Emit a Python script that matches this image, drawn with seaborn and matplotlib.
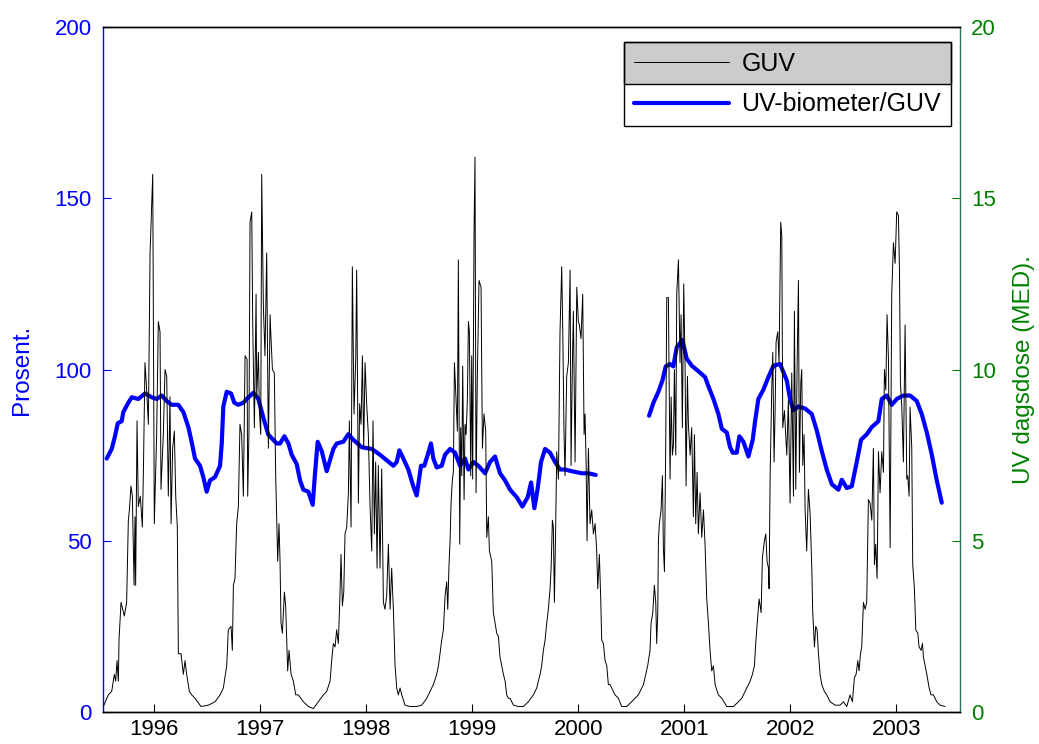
import pandas as pd
import matplotlib
matplotlib.use('Agg')
import matplotlib.pyplot as plt
import seaborn as sns
from matplotlib.lines import Line2D
from matplotlib.patches import Rectangle

# GUV daily UV dose (MED) as (decimal year, value)
guv = [
    (1996.019, 0.16), (1996.066, 0.5), (1996.098, 0.6), (1996.123, 1.1), (1996.136, 0.9),
    (1996.148, 1.5), (1996.161, 0.9), (1996.167, 2.1), (1996.186, 3.2), (1996.217, 2.8),
    (1996.239, 3.2), (1996.255, 5.6), (1996.265, 5.9), (1996.280, 6.6), (1996.293, 6.3),
    (1996.309, 3.7), (1996.318, 5.7), (1996.324, 3.7), (1996.337, 8.5), (1996.349, 6.0),
    (1996.368, 6.3), (1996.387, 5.4), (1996.397, 7.0), (1996.412, 10.2), (1996.428, 9.4),
    (1996.444, 8.4), (1996.460, 13.4), (1996.485, 15.7), (1996.500, 5.5), (1996.522, 8.1),
    (1996.538, 11.4), (1996.554, 11.1), (1996.563, 6.5), (1996.585, 8.1), (1996.601, 10.0),
    (1996.617, 9.8), (1996.632, 6.3), (1996.648, 9.2), (1996.658, 5.5), (1996.673, 7.7),
    (1996.689, 8.2), (1996.702, 6.3), (1996.717, 5.4), (1996.727, 1.7), (1996.752, 1.7),
    (1996.774, 1.1), (1996.790, 1.5), (1996.805, 1.1), (1996.831, 0.6), (1996.853, 0.5),
    (1996.884, 0.4), (1996.941, 0.16), (1997.010, 0.2), (1997.073, 0.3), (1997.120, 0.5),
    (1997.151, 0.7), (1997.183, 1.35), (1997.198, 2.4), (1997.224, 2.5), (1997.236, 1.8),
    (1997.246, 3.7), (1997.261, 3.9), (1997.277, 5.5), (1997.293, 6.0), (1997.308, 8.4),
    (1997.324, 8.1), (1997.340, 6.3), (1997.356, 10.4), (1997.375, 10.3), (1997.381, 6.3),
    (1997.393, 8.2), (1997.403, 14.3), (1997.419, 14.6), (1997.428, 11.4), (1997.444, 8.3),
    (1997.460, 12.2), (1997.466, 9.2), (1997.482, 10.5), (1997.491, 8.8), (1997.504, 8.1),
    (1997.513, 15.7), (1997.529, 11.8), (1997.544, 10.4), (1997.560, 13.4), (1997.576, 7.7),
    (1997.592, 11.6), (1997.601, 10.9), (1997.614, 10.0), (1997.632, 9.9), (1997.645, 6.9),
    (1997.664, 4.4), (1997.676, 5.5), (1997.686, 4.4), (1997.695, 2.6), (1997.708, 2.3),
    (1997.727, 3.5), (1997.739, 3.1), (1997.758, 1.2), (1997.771, 1.8), (1997.790, 1.1),
    (1997.812, 0.9), (1997.834, 0.5), (1997.859, 0.5), (1997.906, 0.3), (1997.953, 0.16),
    (1998.000, 0.1), (1998.047, 0.3), (1998.095, 0.5), (1998.126, 0.6), (1998.158, 0.9),
    (1998.173, 1.5), (1998.189, 2.0), (1998.205, 1.9), (1998.220, 2.4), (1998.236, 2.0),
    (1998.252, 3.5), (1998.261, 4.6), (1998.274, 3.1), (1998.287, 3.5), (1998.299, 5.2),
    (1998.315, 5.4), (1998.331, 6.4), (1998.340, 8.5), (1998.356, 5.4), (1998.368, 13.0),
    (1998.384, 8.7), (1998.400, 10.3), (1998.409, 12.9), (1998.425, 6.1), (1998.437, 9.0),
    (1998.450, 8.4), (1998.463, 10.4), (1998.475, 7.7), (1998.488, 10.2), (1998.503, 9.0),
    (1998.519, 8.1), (1998.535, 6.0), (1998.551, 4.7), (1998.563, 8.5), (1998.576, 5.2),
    (1998.588, 7.3), (1998.601, 4.2), (1998.613, 7.2), (1998.629, 4.2), (1998.645, 7.1),
    (1998.661, 3.2), (1998.676, 3.0), (1998.692, 3.4), (1998.708, 4.9), (1998.724, 3.0),
    (1998.739, 4.2), (1998.755, 3.0), (1998.771, 1.35), (1998.787, 0.7), (1998.802, 0.5),
    (1998.818, 0.7), (1998.834, 0.5), (1998.865, 0.2), (1998.912, 0.16), (1998.975, 0.16),
    (1999.022, 0.2), (1999.070, 0.4), (1999.101, 0.6), (1999.132, 0.8), (1999.164, 1.1),
    (1999.180, 1.35), (1999.195, 1.7), (1999.211, 2.1), (1999.227, 2.4), (1999.243, 3.4),
    (1999.258, 3.8), (1999.268, 3.0), (1999.280, 4.3), (1999.290, 5.0), (1999.299, 6.1),
    (1999.312, 6.8), (1999.321, 7.0), (1999.331, 10.2), (1999.346, 9.1), (1999.359, 8.2),
    (1999.368, 13.2), (1999.381, 4.9), (1999.390, 8.3), (1999.400, 6.9), (1999.409, 10.1),
    (1999.422, 6.2), (1999.431, 8.4), (1999.441, 8.1), (1999.453, 9.1), (1999.463, 11.4),
    (1999.472, 11.1), (1999.485, 6.9), (1999.494, 10.4), (1999.503, 6.8), (1999.516, 14.0),
    (1999.525, 16.2), (1999.535, 6.4), (1999.547, 9.8), (1999.563, 12.6), (1999.582, 12.4),
    (1999.595, 7.7), (1999.610, 8.7), (1999.626, 8.2), (1999.636, 5.1), (1999.651, 5.7),
    (1999.661, 4.7), (1999.683, 4.4), (1999.698, 2.9), (1999.714, 2.6), (1999.730, 2.3),
    (1999.746, 2.2), (1999.761, 1.6), (1999.777, 1.35), (1999.793, 1.1), (1999.809, 0.9),
    (1999.824, 0.5), (1999.840, 0.4), (1999.856, 0.4), (1999.887, 0.2), (1999.934, 0.16),
    (1999.981, 0.16), (2000.029, 0.3), (2000.076, 0.5), (2000.107, 0.7), (2000.139, 1.1),
    (2000.154, 1.35), (2000.170, 1.8), (2000.186, 2.1), (2000.202, 2.6), (2000.217, 3.0),
    (2000.233, 3.6), (2000.243, 4.2), (2000.255, 5.6), (2000.264, 5.4), (2000.274, 3.2),
    (2000.286, 5.4), (2000.296, 7.6), (2000.312, 6.8), (2000.327, 11.1), (2000.343, 13.0),
    (2000.353, 11.1), (2000.365, 8.1), (2000.374, 6.9), (2000.390, 9.8), (2000.406, 10.2),
    (2000.422, 12.9), (2000.431, 7.2), (2000.444, 10.2), (2000.453, 11.7), (2000.469, 7.3),
    (2000.485, 12.4), (2000.500, 11.4), (2000.510, 11.3), (2000.525, 10.9), (2000.541, 12.2),
    (2000.554, 8.1), (2000.563, 8.7), (2000.573, 7.3), (2000.582, 5.0), (2000.595, 7.7),
    (2000.610, 5.5), (2000.626, 5.9), (2000.642, 5.2), (2000.658, 5.5), (2000.673, 4.7),
    (2000.683, 3.6), (2000.698, 4.6), (2000.711, 3.3), (2000.720, 2.1), (2000.736, 2.0),
    (2000.752, 1.5), (2000.768, 1.35), (2000.783, 0.8), (2000.799, 0.8), (2000.831, 0.6),
    (2000.846, 0.5), (2000.878, 0.4), (2000.909, 0.16), (2000.956, 0.16), (2001.003, 0.3),
    (2001.035, 0.4), (2001.066, 0.5), (2001.082, 0.6), (2001.114, 0.8), (2001.136, 1.1),
    (2001.154, 1.35), (2001.176, 1.8), (2001.186, 2.6), (2001.202, 2.9), (2001.217, 3.7),
    (2001.230, 3.2), (2001.239, 2.0), (2001.249, 2.9), (2001.255, 5.0), (2001.264, 5.5),
    (2001.280, 5.9), (2001.293, 6.9), (2001.302, 4.8), (2001.312, 4.1), (2001.324, 7.8),
    (2001.334, 12.1), (2001.349, 12.1), (2001.365, 6.8), (2001.375, 9.2), (2001.387, 7.5),
    (2001.397, 7.8), (2001.406, 10.0), (2001.419, 7.5), (2001.428, 12.2), (2001.444, 13.2),
    (2001.459, 10.2), (2001.469, 11.6), (2001.481, 8.3), (2001.494, 12.5), (2001.507, 10.0),
    (2001.516, 6.6), (2001.529, 9.8), (2001.538, 8.4), (2001.554, 7.5), (2001.569, 8.3),
    (2001.585, 5.7), (2001.595, 8.1), (2001.607, 5.5), (2001.620, 7.0), (2001.632, 5.2),
    (2001.648, 6.4), (2001.664, 5.1), (2001.680, 5.9), (2001.695, 4.9), (2001.711, 3.3),
    (2001.727, 2.6), (2001.742, 1.8), (2001.758, 1.2), (2001.774, 1.35), (2001.790, 0.8),
    (2001.821, 0.5), (2001.853, 0.4), (2001.900, 0.16), (2001.963, 0.16), (2002.010, 0.3),
    (2002.041, 0.4), (2002.088, 0.7), (2002.120, 0.9), (2002.142, 1.1), (2002.161, 1.35),
    (2002.173, 2.0), (2002.192, 2.8), (2002.205, 3.3), (2002.224, 2.9), (2002.236, 4.5),
    (2002.255, 5.0), (2002.268, 5.2), (2002.280, 4.4), (2002.293, 4.2), (2002.299, 3.6),
    (2002.309, 6.9), (2002.324, 9.4), (2002.334, 10.5), (2002.346, 7.3), (2002.356, 8.8),
    (2002.365, 10.8), (2002.381, 11.1), (2002.393, 10.2), (2002.409, 14.3), (2002.419, 13.9),
    (2002.428, 8.3), (2002.444, 8.8), (2002.466, 7.5), (2002.481, 9.1), (2002.497, 6.1),
    (2002.513, 9.9), (2002.529, 6.3), (2002.538, 11.7), (2002.551, 6.5), (2002.563, 10.0),
    (2002.576, 12.6), (2002.585, 7.0), (2002.598, 9.6), (2002.607, 10.0), (2002.617, 7.2),
    (2002.629, 8.1), (2002.639, 5.9), (2002.654, 4.7), (2002.670, 6.5), (2002.686, 5.8),
    (2002.702, 4.2), (2002.711, 2.9), (2002.727, 1.9), (2002.739, 2.5), (2002.752, 2.4),
    (2002.765, 1.7), (2002.780, 1.1), (2002.796, 0.8), (2002.821, 0.6), (2002.843, 0.5),
    (2002.875, 0.3), (2002.922, 0.2), (2002.969, 0.2), (2003.000, 0.3), (2003.032, 0.16),
    (2003.063, 0.5), (2003.085, 0.3), (2003.104, 1.0), (2003.120, 1.1), (2003.136, 1.5),
    (2003.148, 1.2), (2003.161, 1.7), (2003.173, 1.9), (2003.189, 3.2), (2003.205, 3.0),
    (2003.220, 3.2), (2003.236, 6.2), (2003.252, 6.1), (2003.268, 5.6), (2003.283, 7.7),
    (2003.293, 4.3), (2003.305, 4.9), (2003.318, 3.9), (2003.331, 7.6), (2003.346, 6.4),
    (2003.362, 7.6), (2003.378, 7.0), (2003.387, 10.0), (2003.400, 9.4), (2003.412, 11.6),
    (2003.425, 10.3), (2003.441, 4.8), (2003.456, 12.2), (2003.472, 13.7), (2003.488, 13.1),
    (2003.503, 14.6), (2003.519, 14.5), (2003.529, 12.9), (2003.538, 9.6), (2003.551, 8.9),
    (2003.566, 7.3), (2003.582, 11.3), (2003.598, 6.8), (2003.607, 6.9), (2003.620, 6.3),
    (2003.629, 8.9), (2003.645, 7.7), (2003.654, 4.3), (2003.670, 3.6), (2003.683, 2.4),
    (2003.702, 2.3), (2003.714, 1.9), (2003.733, 1.8), (2003.746, 2.0), (2003.755, 1.6),
    (2003.771, 1.35), (2003.787, 1.1), (2003.809, 0.7), (2003.827, 0.5), (2003.849, 0.5),
    (2003.881, 0.3), (2003.912, 0.2), (2003.959, 0.16),
]

# UV-biometer / GUV ratio (%), first stretch 1996 - early 2000
ratio_a = [
    (1996.051, 74.0), (1996.098, 76.8), (1996.129, 80.5), (1996.155, 84.3), (1996.192, 84.9),
    (1996.208, 87.6), (1996.255, 90.3), (1996.287, 91.9), (1996.349, 91.4), (1996.412, 93.0),
    (1996.475, 91.9), (1996.523, 91.4), (1996.570, 92.4), (1996.617, 90.8), (1996.664, 89.7),
    (1996.726, 89.7), (1996.774, 87.6), (1996.821, 83.2), (1996.852, 78.9), (1996.884, 74.0),
    (1996.931, 71.9), (1996.962, 68.6), (1996.994, 64.3), (1997.025, 67.6), (1997.073, 68.6),
    (1997.120, 71.9), (1997.136, 78.4), (1997.151, 89.2), (1997.183, 93.5), (1997.224, 93.0),
    (1997.255, 90.3), (1997.292, 89.7), (1997.340, 90.3), (1997.372, 91.4), (1997.434, 93.2),
    (1997.481, 91.4), (1997.528, 86.0), (1997.575, 81.0), (1997.655, 78.4), (1997.686, 78.4),
    (1997.727, 80.5), (1997.765, 78.4), (1997.796, 75.1), (1997.843, 72.4), (1997.875, 67.6),
    (1997.906, 64.9), (1997.953, 64.3), (1997.994, 60.5), (1998.016, 69.7), (1998.041, 78.9),
    (1998.079, 76.2), (1998.126, 70.3), (1998.157, 73.5), (1998.189, 76.8), (1998.221, 78.4),
    (1998.283, 78.9), (1998.330, 81.1), (1998.377, 79.5), (1998.457, 77.3), (1998.551, 76.8),
    (1998.629, 75.1), (1998.692, 73.5), (1998.755, 71.9), (1998.787, 73.0), (1998.811, 76.4),
    (1998.849, 74.0), (1998.896, 70.8), (1998.943, 65.9), (1998.975, 63.2), (1999.016, 71.9),
    (1999.047, 71.9), (1999.079, 75.1), (1999.110, 78.4), (1999.132, 74.0), (1999.164, 71.4),
    (1999.211, 71.9), (1999.242, 75.1), (1999.290, 76.8), (1999.337, 75.7), (1999.384, 71.9),
    (1999.431, 74.0), (1999.463, 70.8), (1999.510, 73.0), (1999.557, 71.9), (1999.620, 69.7),
    (1999.667, 73.0), (1999.714, 74.6), (1999.761, 69.7), (1999.809, 67.6), (1999.856, 64.9),
    (1999.919, 62.7), (1999.972, 60.0), (2000.022, 62.7), (2000.054, 67.0), (2000.085, 59.5),
    (2000.117, 65.4), (2000.148, 73.0), (2000.186, 76.8), (2000.233, 75.7), (2000.280, 73.0),
    (2000.327, 70.8), (2000.375, 70.8), (2000.438, 70.3), (2000.532, 69.7), (2000.594, 69.7),
    (2000.664, 69.2),
]

# UV-biometer / GUV ratio (%), second stretch 2001 - 2003
ratio_b = [
    (2001.167, 86.5), (2001.208, 90.3), (2001.255, 93.5), (2001.293, 96.8), (2001.324, 100.9),
    (2001.365, 101.6), (2001.396, 100.9), (2001.428, 106.5), (2001.481, 108.6), (2001.522, 103.2),
    (2001.570, 101.1), (2001.632, 99.5), (2001.695, 97.8), (2001.727, 95.1), (2001.774, 91.4),
    (2001.821, 87.0), (2001.853, 82.7), (2001.900, 81.6), (2001.931, 77.3), (2001.957, 75.7),
    (2001.994, 75.7), (2002.019, 80.5), (2002.057, 78.9), (2002.104, 74.6), (2002.145, 79.5),
    (2002.167, 84.9), (2002.198, 91.4), (2002.245, 94.1), (2002.293, 97.8), (2002.340, 101.1),
    (2002.403, 101.6), (2002.466, 96.8), (2002.497, 91.4), (2002.528, 88.1), (2002.576, 89.2),
    (2002.639, 88.6), (2002.702, 87.0), (2002.749, 82.2), (2002.796, 76.2), (2002.843, 70.8),
    (2002.891, 66.5), (2002.953, 64.9), (2002.985, 67.8), (2003.032, 65.4), (2003.079, 65.9),
    (2003.126, 73.0), (2003.167, 79.5), (2003.221, 81.1), (2003.268, 83.2), (2003.330, 84.9),
    (2003.362, 91.4), (2003.409, 92.4), (2003.456, 89.7), (2003.504, 91.4), (2003.566, 92.4),
    (2003.629, 92.4), (2003.692, 90.8), (2003.739, 87.0), (2003.787, 81.6), (2003.834, 75.1),
    (2003.881, 67.6), (2003.928, 61.1),
]

# year labels sit at mid-year
year_ticks = [1996.5, 1997.5, 1998.5, 1999.5, 2000.5, 2001.5, 2002.5, 2003.5]
year_labels = ['1996', '1997', '1998', '1999', '2000', '2001', '2002', '2003']
pct_ticks = [0, 50, 100, 150, 200]
med_ticks = [0, 5, 10, 15, 20]

blue = '#0000ff'
green = '#008000'

sns.set_theme(style='white')
plt.rcParams['font.family'] = ['Liberation Sans', 'DejaVu Sans']
plt.rcParams['text.color'] = 'black'

guv_df = pd.DataFrame(guv, columns=['year', 'med'])
ratio_df = pd.concat([
    pd.DataFrame(ratio_a, columns=['year', 'pct']).assign(part=1),
    pd.DataFrame(ratio_b, columns=['year', 'pct']).assign(part=2),
], ignore_index=True)

fig = plt.figure(figsize=(10.39, 7.44), dpi=100)
ax = fig.add_axes([103 / 1039, 32 / 744, 857 / 1039, 685 / 744])
ax2 = ax.twinx()

# blue ratio on the left axis, black GUV dose on the right axis (drawn on top)
sns.lineplot(data=ratio_df, x='year', y='pct', units='part', estimator=None,
             color=blue, linewidth=3, ax=ax, legend=False)
sns.lineplot(data=guv_df, x='year', y='med', estimator=None,
             color='black', linewidth=0.7, ax=ax2, legend=False)

ax.set_xlim(1996.016, 2004.10)
ax.set_ylim(0, 200)
ax2.set_ylim(0, 20)
ax.set_xticks(year_ticks, year_labels)
ax.set_yticks(pct_ticks)
ax2.set_yticks(med_ticks)

ax.tick_params(axis='x', colors='black', direction='in', length=6, width=0.8,
               labelsize=16, pad=5, bottom=True)
ax.tick_params(axis='y', colors=blue, direction='in', length=6, width=0.8,
               labelsize=16, pad=8, left=True)
ax2.tick_params(axis='y', colors=green, direction='in', length=6, width=0.8,
                labelsize=16, pad=8, right=True)

for a in (ax, ax2):
    a.spines['top'].set_color('black')
    a.spines['bottom'].set_color('black')
    a.spines['top'].set_linewidth(1)
    a.spines['bottom'].set_linewidth(1)
ax.spines['right'].set_visible(False)
ax2.spines['left'].set_visible(False)
ax.spines['left'].set_color(blue)
ax.spines['left'].set_linewidth(1)
ax2.spines['right'].set_color('#2f7060')
ax2.spines['right'].set_linewidth(1)

ax.set_xlabel('')
ax.set_ylabel('Prosent.', color=blue, fontsize=17.5)
ax2.set_ylabel('UV dagsdose (MED).', color=green, fontsize=17.5)
ax.yaxis.set_label_coords(-0.0813, 0.5)
ax2.yaxis.set_label_coords(1.062, 0.5)

# legend: first row grey, second row white, like the original
handles = [Line2D([], [], color='black', linewidth=0.7),
           Line2D([], [], color=blue, linewidth=3)]
leg = ax2.legend(handles, ['GUV', 'UV-biometer/GUV'], loc='upper right',
                 bbox_to_anchor=(0.9895, 0.978), borderaxespad=0, fontsize=18,
                 handlelength=3.8, handletextpad=0.5, borderpad=0.4,
                 labelspacing=0.65, frameon=True, fancybox=False, framealpha=1,
                 edgecolor='black', facecolor='none')
leg.get_frame().set_linewidth(1)

fig.canvas.draw()
bb = leg.get_window_extent()
inv = ax2.transAxes.inverted()
(x0, y0), (x1, y1) = inv.transform([[bb.x0, bb.y0], [bb.x1, bb.y1]])
ym = (y0 + y1) / 2
ax2.add_patch(Rectangle((x0, y0), x1 - x0, y1 - y0, transform=ax2.transAxes,
                        facecolor='white', edgecolor='none', zorder=4))
ax2.add_patch(Rectangle((x0, ym), x1 - x0, y1 - ym, transform=ax2.transAxes,
                        facecolor='#cccccc', edgecolor='black', linewidth=1, zorder=4.5))

fig.savefig('out.png', dpi=100)
